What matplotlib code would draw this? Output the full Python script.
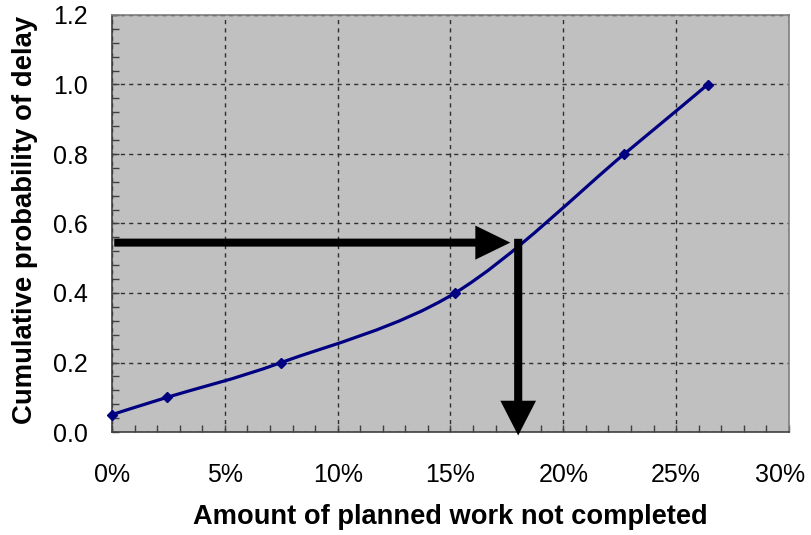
import numpy as np
import matplotlib
matplotlib.use('Agg')
import matplotlib.pyplot as plt
from matplotlib.path import Path
from matplotlib.patches import PathPatch
from matplotlib.ticker import MultipleLocator, FuncFormatter

# share of planned work not completed (%) vs cumulative probability of delay
work_pct = [0.0, 2.45, 7.5, 15.2, 22.7, 26.4]
prob = [0.05, 0.10, 0.20, 0.40, 0.80, 1.00]

# reading taken off the curve
read_pct = 18.0
read_prob = 0.545

X_MAX = 30

plt.rcParams['font.family'] = ['Liberation Sans', 'DejaVu Sans']

fig = plt.figure(figsize=(8.12, 5.35), dpi=100)
W, H = 812, 535
ax = fig.add_axes([112 / W, 1 - 432 / H, (789 - 112) / W, (432 - 15) / H])
ax.set_facecolor('#c0c0c0')
ax.set_xlim(0, X_MAX)
ax.set_ylim(0, 1.2)


def smooth_path(xs, ys, k=1 / 6):
    # excel-style smoothed line: bezier segments with catmull-rom tangents
    pts = np.column_stack([xs, ys])
    n = len(pts)
    verts = [pts[0]]
    codes = [Path.MOVETO]
    for i in range(n - 1):
        p0 = pts[max(i - 1, 0)]
        p1 = pts[i]
        p2 = pts[i + 1]
        p3 = pts[min(i + 2, n - 1)]
        c1 = p1 + (p2 - p0) * k
        c2 = p2 - (p3 - p1) * k
        verts += [c1, c2, p2]
        codes += [Path.CURVE4] * 3
    return Path(verts, codes)


ax.add_patch(PathPatch(smooth_path(work_pct, prob), fill=False,
                       edgecolor='#000080', lw=2.3, zorder=4))
ax.plot(work_pct, prob, ls='none', marker='D', ms=5.5, color='#000080',
        zorder=5, clip_on=False)

# arrows: across from the probability axis, then down to the work axis
ax.arrow(0.1, read_prob, read_pct - 0.1 - 0.35, 0, width=0.023, head_width=0.098,
         head_length=1.55, length_includes_head=True, color='black', lw=0,
         zorder=6)
ax.arrow(read_pct, read_prob + 0.011, 0, -(read_prob + 0.011) - 0.01, width=0.36,
         head_width=1.58, head_length=0.1, length_includes_head=True,
         color='black', lw=0, zorder=6, clip_on=False)


def pct_label(v, p):
    # last label is drawn by hand, nudged left to stay on the canvas
    if round(v) >= X_MAX:
        return ''
    return '%d%%' % round(v)


ax.xaxis.set_major_locator(MultipleLocator(5))
ax.xaxis.set_minor_locator(MultipleLocator(1))
ax.yaxis.set_major_locator(MultipleLocator(0.2))
ax.yaxis.set_minor_locator(MultipleLocator(0.04))
ax.xaxis.set_major_formatter(FuncFormatter(pct_label))
ax.yaxis.set_major_formatter(FuncFormatter(lambda v, p: '%.1f' % v))

ax.tick_params(which='both', direction='in', length=5, width=1, color='#404040',
               labelsize=18)
ax.tick_params(axis='x', which='major', pad=22)
ax.tick_params(axis='y', which='major', pad=17.5)
ax.grid(True, which='major', color='#303030', ls=(0, (3, 3)), lw=1)

ax.annotate('%d%%' % X_MAX, xy=(X_MAX, 0), xytext=(-9, -22 * 100 / 72),
            textcoords='offset pixels', ha='center', va='top', fontsize=18,
            annotation_clip=False)

for side in ['top', 'right']:
    ax.spines[side].set_color('#808080')
for side in ['left', 'bottom']:
    ax.spines[side].set_color('#404040')
for s in ax.spines.values():
    s.set_linewidth(1.2)

fig.text(450 / W, 1 - 517 / H, 'Amount of planned work not completed',
         ha='center', va='center', fontsize=19.6, fontweight='bold')
fig.text(25 / W, 1 - 220 / H, 'Cumulative probability of delay',
         ha='center', va='center', rotation=90, fontsize=19.8, fontweight='bold')

fig.savefig('out.png', dpi=100)
